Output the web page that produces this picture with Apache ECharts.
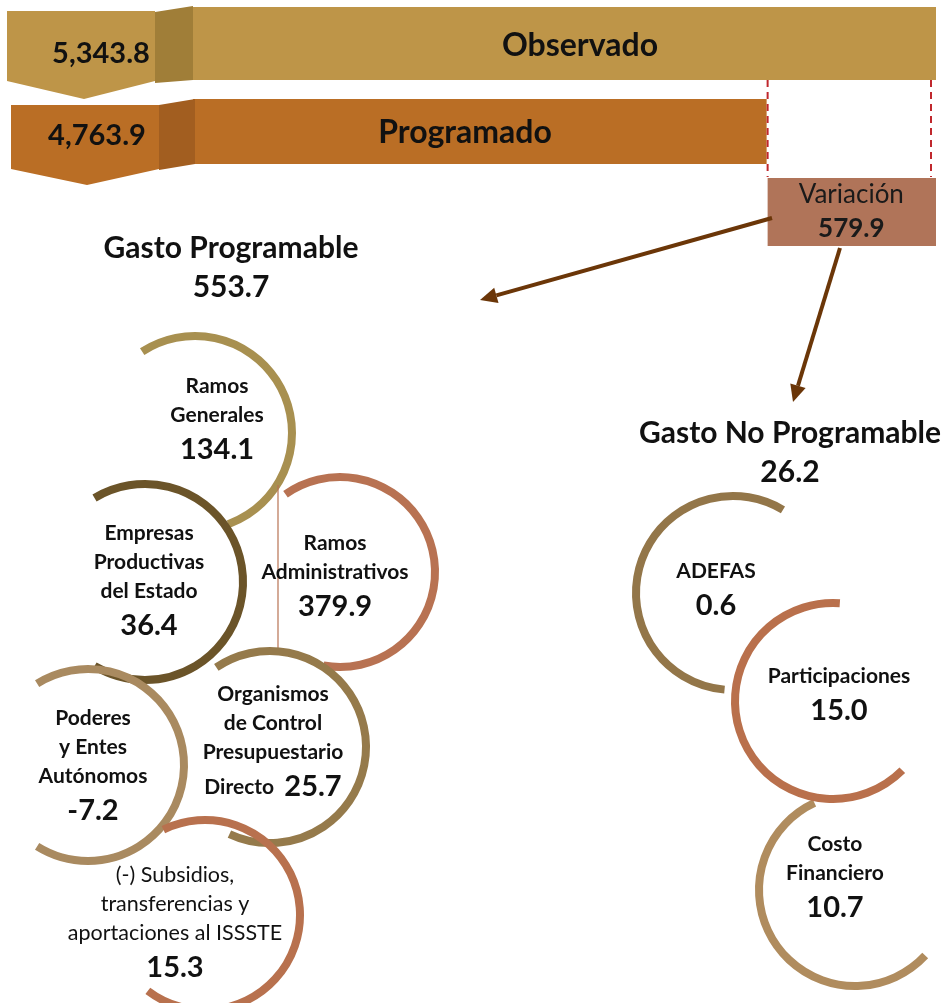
<!DOCTYPE html>
<html>
<head>
<meta charset="utf-8">
<script src="https://cdn.jsdelivr.net/npm/echarts@6.0.0/dist/echarts.min.js"></script>
<style>html, body { margin: 0; padding: 0; background: #fff; }</style>
</head>
<body>
<div id="main" style="width: 943px; height: 1003px;"></div>
<script type="text/javascript">
// ---- data ----
var totalNames = ['Observado', 'Programado'];
var totalValues = [5343.8, 4763.9];
var variationName = 'Variación';
var variationValue = 579.9;
var groupNames = ['Gasto Programable', 'Gasto No Programable'];
var groupValues = [553.7, 26.2];
var progNames = ['Ramos\nGenerales', 'Empresas\nProductivas\ndel Estado', 'Ramos\nAdministrativos',
    'Organismos\nde Control\nPresupuestario\nDirecto', 'Poderes\ny Entes\nAutónomos',
    '(-) Subsidios,\ntransferencias y\naportaciones al ISSSTE'];
var progValues = [134.1, 36.4, 379.9, 25.7, -7.2, 15.3];
var noProgNames = ['ADEFAS', 'Participaciones', 'Costo\nFinanciero'];
var noProgValues = [0.6, 15.0, 10.7];

// ---- layout (pixels) ----
var FONT = 'Lato, "Open Sans", sans-serif';
var X_MIN = 2800, X_MAX = 5360;

var barLayout = [
    { y0: 7, y1: 80, fill: '#BE9548', fold: '#A07E38',
      block: [[7, 11], [155, 11], [155, 81], [84, 99], [7, 81]],
      foldPts: [[155, 12], [193, 6], [193, 80], [155, 83]],
      nameX: 580, nameY: 46, valX: 101, valY: 54 },
    { y0: 99, y1: 164, fill: '#BA6E25', fold: '#A25E20',
      block: [[11, 105], [159, 105], [159, 169], [87, 185], [11, 169]],
      foldPts: [[159, 105], [195, 99], [195, 164], [159, 170]],
      nameX: 465, nameY: 133, valX: 97, valY: 136 }
];

var groupLayout = [
    { tx: 231, ty: 229, from: [772, 218], to: [480, 300] },
    { tx: 790, ty: 414, from: [840, 248], to: [793, 402] }
];

var progLayout = [
    { cx: 195, cy: 433, r: 97, a0: -123, a1: 70, cw: true, color: '#A89050', lx: 217, ly: 372 },
    { cx: 145, cy: 582, r: 98, a0: -121, a1: 121, cw: true, color: '#6B5429', lx: 149, ly: 519 },
    { cx: 340, cy: 572, r: 95, a0: -125, a1: 100, cw: true, color: '#B87252', lx: 335, ly: 529, rule: [278, 485, 650] },
    { cx: 270, cy: 747, r: 96, a0: -124, a1: 115, cw: true, color: '#957A4B', lx: 273, ly: 680, inline: true },
    { cx: 88, cy: 765, r: 96, a0: -122, a1: 122, cw: true, color: '#A98A60', lx: 93, ly: 704 },
    { cx: 205, cy: 915, r: 95, a0: -116, a1: 127, cw: true, color: '#B8714E', lx: 175, ly: 861, light: true }
];

var noProgLayout = [
    { cx: 733, cy: 593, r: 97, a0: -59, a1: -265, cw: false, color: '#937649', lx: 716, ly: 557, z: 1 },
    { cx: 833, cy: 701, r: 98, a0: -86, a1: -315, cw: false, color: '#B9704C', lx: 839, ly: 662, z: 3 },
    { cx: 855, cy: 890, r: 96, a0: -115, a1: -317, cw: false, color: '#B08C5E', lx: 835, ly: 830, z: 2 }
];

function fmtTotal(v) {
    return v.toLocaleString('en-US', { minimumFractionDigits: 1, maximumFractionDigits: 1 });
}

function renderTotal(params, api) {
    var i = params.dataIndex;
    var L = barLayout[i];
    var p0 = api.coord([X_MIN, L.y0]);
    var p1 = api.coord([api.value(0), L.y1]);
    return {
        type: 'group',
        children: [
            { type: 'rect', shape: { x: p0[0], y: p0[1], width: p1[0] - p0[0], height: p1[1] - p0[1] },
              style: { fill: L.fill } },
            { type: 'polygon', shape: { points: L.block }, style: { fill: L.fill } },
            { type: 'polygon', shape: { points: L.foldPts }, style: { fill: L.fold } },
            { type: 'text', x: L.nameX, y: L.nameY, z2: 10,
              style: { text: totalNames[i], font: 'bold 32px ' + FONT, fill: '#111', align: 'center', verticalAlign: 'middle' } },
            { type: 'text', x: L.valX, y: L.valY, z2: 10,
              style: { text: fmtTotal(api.value(0)), font: 'bold 29px ' + FONT, fill: '#111', align: 'center', verticalAlign: 'middle' } }
        ]
    };
}

function renderVariation(params, api) {
    var a = api.coord([api.value(0), 80]);
    var b = api.coord([api.value(1), 177]);
    var dash = { stroke: '#C0282D', lineWidth: 2, lineDash: [7, 5] };
    return {
        type: 'group',
        children: [
            { type: 'line', shape: { x1: a[0] + 1, y1: a[1], x2: a[0] + 1, y2: b[1] }, style: dash },
            { type: 'line', shape: { x1: b[0] - 5, y1: a[1], x2: b[0] - 5, y2: b[1] }, style: dash },
            { type: 'rect', shape: { x: a[0] + 1, y: 178, width: b[0] - a[0] - 1, height: 68 }, style: { fill: '#B07459' } },
            { type: 'text', x: (a[0] + b[0]) / 2, y: 212, z2: 10,
              style: { text: '{n|' + variationName + '}\n{v|' + api.value(2).toFixed(1) + '}',
                       align: 'center', verticalAlign: 'middle',
                       rich: { n: { fontFamily: FONT, fontSize: 26, lineHeight: 34, fill: '#1a1a1a' },
                               v: { fontFamily: FONT, fontWeight: 'bold', fontSize: 26, lineHeight: 34, fill: '#1a1a1a' } } } }
        ]
    };
}

function arrow(from, to, color) {
    var dx = to[0] - from[0], dy = to[1] - from[1];
    var len = Math.sqrt(dx * dx + dy * dy);
    var ux = dx / len, uy = dy / len;
    var hl = 17, hw = 8;
    var bx = to[0] - ux * hl, by = to[1] - uy * hl;
    return [
        { type: 'line', shape: { x1: from[0], y1: from[1], x2: bx, y2: by }, style: { stroke: color, lineWidth: 4 } },
        { type: 'polygon', shape: { points: [to, [bx - uy * hw, by + ux * hw], [bx + uy * hw, by - ux * hw]] }, style: { fill: color } }
    ];
}

function renderGroup(params, api) {
    var i = params.dataIndex;
    var L = groupLayout[i];
    var kids = arrow(L.from, L.to, '#6B3608');
    kids.push({ type: 'text', x: L.tx, y: L.ty, z2: 10,
        style: { text: '{t|' + groupNames[i] + '}\n{t|' + api.value(0).toFixed(1) + '}',
                 align: 'center', verticalAlign: 'top',
                 rich: { t: { fontFamily: FONT, fontWeight: 'bold', fontSize: 30, lineHeight: 39, fill: '#111' } } } });
    return { type: 'group', children: kids };
}

function circleRenderer(names, layout) {
    return function (params, api) {
        var i = params.dataIndex;
        var L = layout[i];
        var deg = Math.PI / 180;
        var lines = names[i].split('\n');
        var v = api.value(0).toFixed(1);
        var txt = lines.map(function (s, k) {
            if (L.inline && k === lines.length - 1) return '{n|' + s + '  }{v|' + v + '}';
            return '{n|' + s + '}';
        }).join('\n');
        if (!L.inline) txt += '\n{v|' + v + '}';
        var kids = [
            { type: 'arc', z2: L.z || 1,
              shape: { cx: L.cx, cy: L.cy, r: L.r, startAngle: L.a0 * deg, endAngle: L.a1 * deg, clockwise: L.cw },
              style: { stroke: L.color, lineWidth: 8, fill: 'none', lineCap: 'butt' } },
            { type: 'text', x: L.lx, y: L.ly, z2: 20,
              style: { text: txt, align: 'center', verticalAlign: 'top',
                       rich: { n: { fontFamily: FONT, fontWeight: L.light ? 'normal' : 'bold', fontSize: L.light ? 21.5 : 21, lineHeight: 29, fill: '#111' },
                               v: { fontFamily: FONT, fontWeight: 'bold', fontSize: 29, lineHeight: 40, fill: '#111' } } } }
        ];
        if (L.rule) {
            kids.push({ type: 'line', z2: 1, shape: { x1: L.rule[0], y1: L.rule[1], x2: L.rule[0], y2: L.rule[2] },
                        style: { stroke: L.color, lineWidth: 1.2 } });
        }
        return { type: 'group', children: kids };
    };
}

var myChart = echarts.init(document.getElementById('main'), null, { renderer: 'canvas' });

var option = {
    animation: false,
    backgroundColor: '#fff',
    grid: [
        { left: 193, top: 0, width: (X_MAX - X_MIN) * 743 / (5343.8 - X_MIN), height: 1003 },
        { left: 0, top: 0, width: 943, height: 1003 }
    ],
    xAxis: [
        { type: 'value', gridIndex: 0, min: X_MIN, max: X_MAX, show: false },
        { type: 'value', gridIndex: 1, min: 0, max: 943, show: false }
    ],
    yAxis: [
        { type: 'value', gridIndex: 0, min: 0, max: 1003, inverse: true, show: false },
        { type: 'value', gridIndex: 1, min: 0, max: 1003, inverse: true, show: false }
    ],
    series: [
        { type: 'custom', name: 'totales', xAxisIndex: 0, yAxisIndex: 0, renderItem: renderTotal,
          data: totalValues.map(function (v) { return [v]; }) },
        { type: 'custom', name: 'variacion', xAxisIndex: 0, yAxisIndex: 0, renderItem: renderVariation,
          data: [[totalValues[1], totalValues[0], variationValue]] },
        { type: 'custom', name: 'grupos', xAxisIndex: 1, yAxisIndex: 1, renderItem: renderGroup,
          data: groupValues.map(function (v) { return [v]; }) },
        { type: 'custom', name: 'programable', xAxisIndex: 1, yAxisIndex: 1, renderItem: circleRenderer(progNames, progLayout),
          data: progValues.map(function (v) { return [v]; }) },
        { type: 'custom', name: 'noProgramable', xAxisIndex: 1, yAxisIndex: 1, renderItem: circleRenderer(noProgNames, noProgLayout),
          data: noProgValues.map(function (v) { return [v]; }) }
    ]
};
myChart.setOption(option);
</script>
</body>
</html>
